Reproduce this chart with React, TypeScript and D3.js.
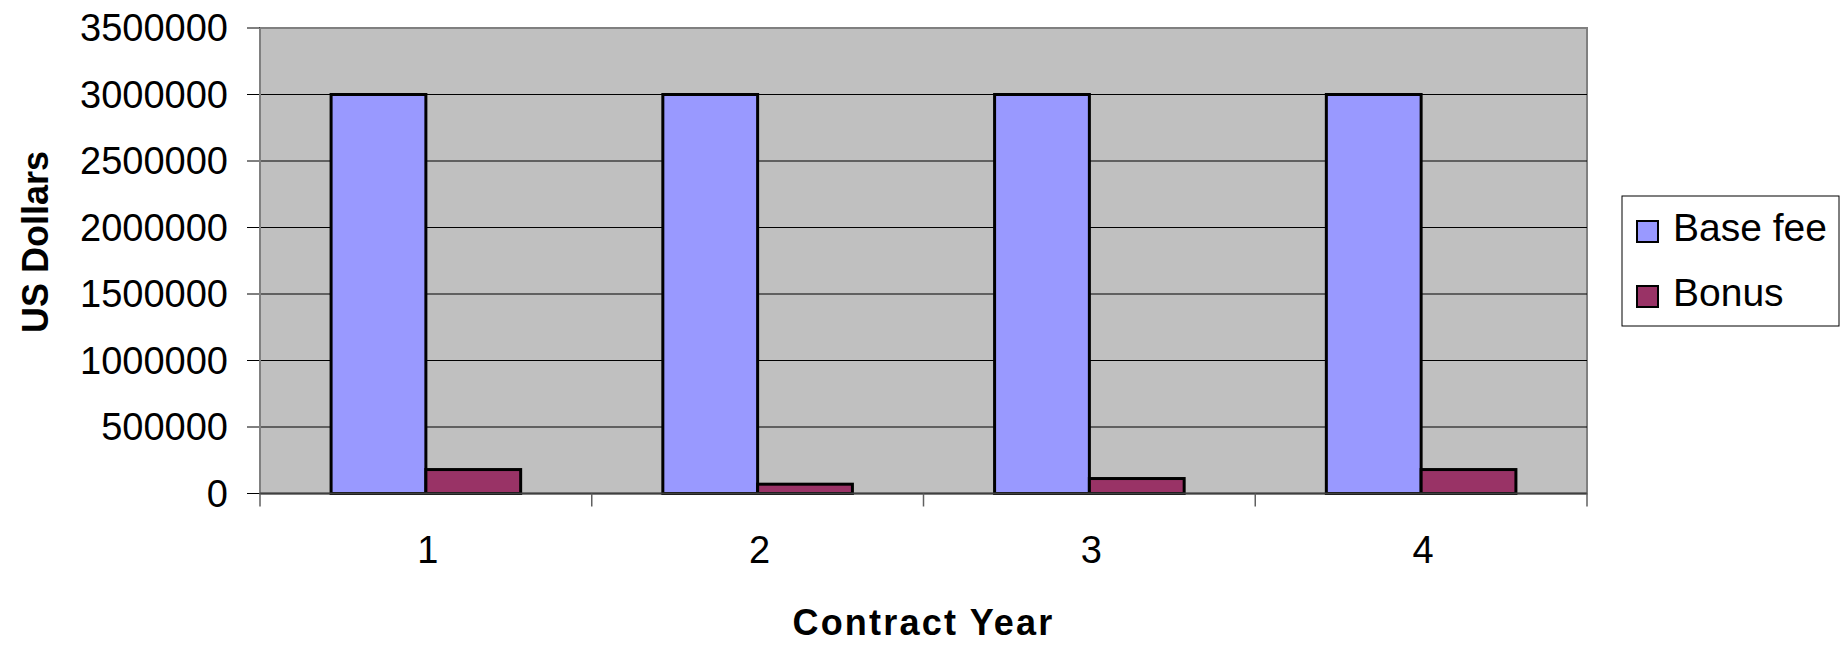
import * as d3 from "d3";

const W = 1845;
const H = 650;

const years = ["1", "2", "3", "4"];
const seriesNames = ["Base fee", "Bonus"];
const baseFee = [3000000, 3000000, 3000000, 3000000];
const bonus = [180000, 70000, 112500, 180000];
const yTicks = [0, 500000, 1000000, 1500000, 2000000, 2500000, 3000000, 3500000];
const colors = ["#9999FF", "#993366"];

const plot = { left: 260, right: 1587, top: 28, bottom: 493.5 };
const FONT = "'Liberation Sans', Arial, sans-serif";

export default function App() {
  const x = d3.scaleBand<string>().domain(years).range([plot.left, plot.right]);
  const xi = d3
    .scaleBand<string>()
    .domain(seriesNames)
    .range([0, x.bandwidth()])
    .paddingInner(0)
    .paddingOuter(0.75);
  const y = d3.scaleLinear().domain([0, 3500000]).range([plot.bottom, plot.top]);

  const values = [baseFee, bonus];
  const boundaries = [...years.map((d) => x(d)!), plot.right];

  return (
    <svg
      width={W}
      height={H}
      style={{ position: "absolute", left: 0, top: 0, background: "#fff" }}
      fontFamily={FONT}
    >
      {/* plot area */}
      <rect
        x={plot.left}
        y={plot.top}
        width={plot.right - plot.left}
        height={plot.bottom - plot.top}
        fill="#C0C0C0"
        stroke="#808080"
        strokeWidth={2}
      />

      {/* gridlines + y ticks */}
      {yTicks.map((t) => (
        <g key={t}>
          {t > 0 && t < 3500000 && (
            <line x1={plot.left} x2={plot.right} y1={y(t)} y2={y(t)} stroke="#000" strokeWidth={1} />
          )}
          <line x1={plot.left - 13} x2={plot.left} y1={y(t)} y2={y(t)} stroke="#000" strokeWidth={1} />
          <text
            x={228}
            y={y(t)}
            textAnchor="end"
            dominantBaseline="central"
            fontSize={38}
            fill="#000"
          >
            {t}
          </text>
        </g>
      ))}

      {/* bars */}
      {years.map((yr, i) => (
        <g key={yr}>
          {seriesNames.map((s, j) => {
            const v = values[j][i];
            return (
              <rect
                key={s}
                x={x(yr)! + xi(s)!}
                y={y(v)}
                width={xi.bandwidth()}
                height={plot.bottom - y(v)}
                fill={colors[j]}
                stroke="#000"
                strokeWidth={3}
              />
            );
          })}
        </g>
      ))}

      {/* axes */}
      <line x1={plot.left} x2={plot.left} y1={plot.top} y2={plot.bottom} stroke="#808080" strokeWidth={2} />
      <line x1={plot.left} x2={plot.right} y1={plot.bottom} y2={plot.bottom} stroke="#404040" strokeWidth={2} />
      {boundaries.map((b, i) => (
        <line key={i} x1={b} x2={b} y1={plot.bottom} y2={plot.bottom + 13} stroke="#606060" strokeWidth={1.5} />
      ))}
      {years.map((yr) => (
        <text
          key={yr}
          x={x(yr)! + x.bandwidth() / 2 + 2}
          y={563}
          textAnchor="middle"
          fontSize={38}
          fill="#000"
        >
          {yr}
        </text>
      ))}

      {/* axis titles */}
      <text
        transform="translate(48,242) rotate(-90)"
        textAnchor="middle"
        fontSize={36}
        fontWeight="bold"
        fill="#000"
      >
        US Dollars
      </text>
      <text
        x={(plot.left + plot.right) / 2}
        y={635}
        textAnchor="middle"
        fontSize={36}
        fontWeight="bold"
        letterSpacing={2.2}
        fill="#000"
      >
        Contract Year
      </text>

      {/* legend */}
      <rect x={1622} y={196} width={217} height={130} fill="#fff" stroke="#000" strokeWidth={1} />
      {seriesNames.map((s, j) => (
        <g key={s}>
          <rect
            x={1637}
            y={221 + j * 65}
            width={21}
            height={21}
            fill={colors[j]}
            stroke="#000"
            strokeWidth={2}
          />
          <text x={1673} y={241 + j * 65} fontSize={39} fill="#000">
            {s}
          </text>
        </g>
      ))}
    </svg>
  );
}
